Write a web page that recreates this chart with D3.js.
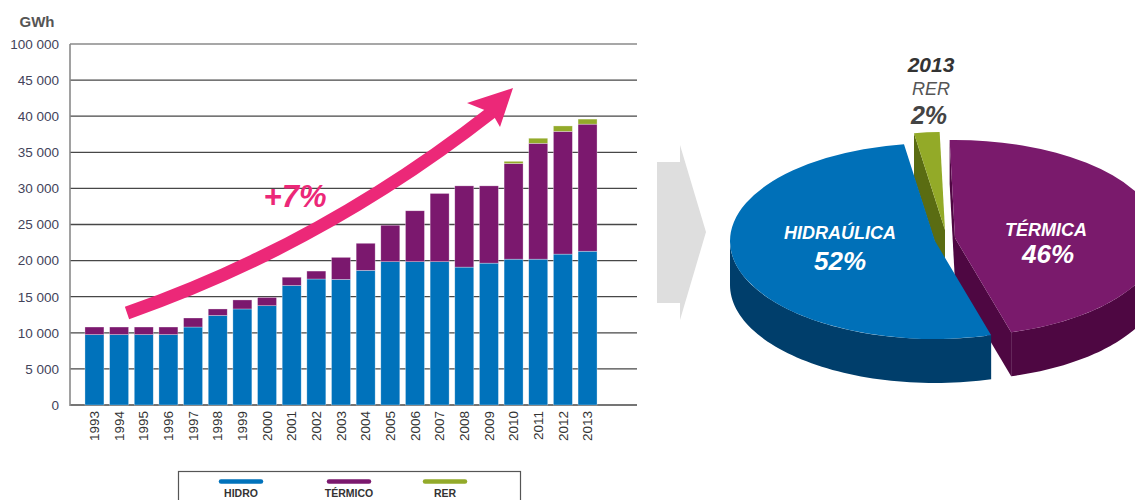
<!DOCTYPE html>
<html><head><meta charset="utf-8">
<script src="https://cdn.jsdelivr.net/npm/d3@7"></script>
<style>
body{margin:0;background:#fff;}
svg{display:block;font-family:"Liberation Sans",Arial,sans-serif;}
</style></head>
<body><svg id="c" width="1135" height="500"></svg>
<script>
// ---------- DATA ----------
const years = ["1993","1994","1995","1996","1997","1998","1999","2000","2001","2002","2003","2004","2005","2006","2007","2008","2009","2010","2011","2012","2013"];
const hidro   = [9750,9750,9750,9750,10800,12400,13300,13750,16550,17450,17400,18650,19850,19850,19850,19100,19650,20200,20200,20900,21300];
const termico = [1050,1050,1050,1050,1250,900,1250,1150,1150,1100,3050,3750,5050,7050,9450,11250,10700,13250,16050,17000,17600];
const rer     = [0,0,0,0,0,0,0,0,0,0,0,0,0,0,0,0,0,300,700,750,700];
const seriesKeys = ["hidro","termico","rer"];
const seriesLabels = ["HIDRO","TÉRMICO","RER"];
const yTickValues = [0,5000,10000,15000,20000,25000,30000,35000,40000,45000,50000];
const yTickLabels = ["0","5 000","10 000","15 000","20 000","25 000","30 000","35 000","40 000","45 000","100 000"];
const pieNames  = ["RER","TÉRMICA","HIDRAÚLICA"];
const pieValues = [2,46,52];
const growthLabel = "+7%";
const pieYear = "2013";

// ---------- STYLE ----------
const colors = {hidro:"#0072bb", termico:"#7b186e", rer:"#93aa2a"};
const svg = d3.select("#c");

// ---------- BAR CHART ----------
const y = d3.scaleLinear().domain([0,50000]).range([405,44]);
const x = d3.scaleBand().domain(years).range([82,600]).paddingInner(0.23).paddingOuter(0.12);
const plotL = 70, plotR = 637;

// grid
svg.append("g").selectAll("line").data(yTickValues).join("line")
  .attr("x1",plotL).attr("x2",plotR)
  .attr("y1",d=>y(d)).attr("y2",d=>y(d))
  .attr("stroke",d=>d===50000?"#8a8a8a":"#474747").attr("stroke-width",1.3);
// y axis line
svg.append("line").attr("x1",plotL).attr("x2",plotL).attr("y1",y(50000)).attr("y2",y(0)+1)
  .attr("stroke","#8a8a8a").attr("stroke-width",1.6);

// y labels
svg.append("g").selectAll("text").data(yTickValues).join("text")
  .attr("x",59).attr("y",d=>y(d)).attr("dy","0.36em")
  .attr("text-anchor","end").attr("font-size",13.5).attr("fill","#43435a")
  .text((d,i)=>yTickLabels[i]);
svg.append("text").attr("x",37).attr("y",27).attr("text-anchor","middle")
  .attr("font-size",15).attr("font-weight","bold").attr("fill","#555").text("GWh");

// stacked bars
const rows = years.map((yr,i)=>({year:yr, hidro:hidro[i], termico:termico[i], rer:rer[i]}));
const stack = d3.stack().keys(seriesKeys)(rows);
svg.append("g").selectAll("g").data(stack).join("g")
  .attr("fill",d=>colors[d.key])
  .selectAll("rect").data(d=>d.filter(p=>p[1]>p[0])).join("rect")
  .attr("x",d=>x(d.data.year)).attr("width",x.bandwidth())
  .attr("y",d=>y(d[1])).attr("height",d=>y(d[0])-y(d[1]))
  .attr("stroke","rgba(255,255,255,0.5)").attr("stroke-width",0.6);

// x labels
svg.append("g").selectAll("text").data(years).join("text")
  .attr("transform",d=>`translate(${x(d)+x.bandwidth()/2},${411}) rotate(-90)`)
  .attr("text-anchor","end").attr("dy","0.35em")
  .attr("font-size",13.5).attr("fill","#333").text(d=>d);

// growth arrow
svg.append("path").attr("d","M127,313 Q322,245 492,112")
  .attr("fill","none").attr("stroke","#ec2878").attr("stroke-width",13);
svg.append("path").attr("d","M513,88 L500,127 L492,113 L467,103 Z").attr("fill","#ec2878");
svg.append("text").attr("x",295).attr("y",207).attr("text-anchor","middle")
  .attr("font-size",31).attr("font-weight","bold").attr("font-style","italic")
  .attr("fill","#ec2878").text(growthLabel);

// legend
svg.append("rect").attr("x",178.5).attr("y",471.5).attr("width",342).attr("height",40)
  .attr("fill","none").attr("stroke","#555").attr("stroke-width",1.2);
const legX = [241,349,445];
const lg = svg.append("g").selectAll("g").data(seriesKeys).join("g")
  .attr("transform",(d,i)=>`translate(${legX[i]},0)`);
lg.append("line").attr("x1",-20).attr("x2",20).attr("y1",481.5).attr("y2",481.5)
  .attr("stroke",d=>colors[d]).attr("stroke-width",4.5).attr("stroke-linecap","round");
lg.append("text").attr("y",497).attr("text-anchor","middle").attr("font-size",10.5)
  .attr("font-weight","bold").attr("fill","#333").text((d,i)=>seriesLabels[i]);

// chevron
svg.append("path").attr("d","M657,162 L680,162 L680,145 L706,232 L680,320 L680,303 L657,303 Z")
  .attr("fill","#dedede");

// ---------- 3D PIE ----------
const rad = Math.PI/180;
const rx = 205, ry = 98, depth = 44;
const pieTop = ["#93aa28","#7a1a6c","#0070b8"];
const pieSide = ["#5a6c12","#4e0742","#003e6b"];
const centers = [[945,230],[955,238],[935,241]];
const arcs = d3.pie().sort(null).startAngle(-8.7*rad).endAngle(351.3*rad)(pieValues);
const P = (c,a,dy=0)=>[c[0]+rx*Math.sin(a), c[1]-ry*Math.cos(a)+dy];
const arcGen = d3.arc().innerRadius(0).outerRadius(rx);
const pg = svg.append("g");
arcs.forEach((a,i)=>{
  const c = centers[i];
  const g = pg.append("g");
  const faces = [];
  if (Math.sin(a.startAngle) < 0) faces.push(a.startAngle);
  if (Math.sin(a.endAngle) > 0) faces.push(a.endAngle);
  faces.forEach(t=>{
    const p1 = P(c,t), p2 = P(c,t,depth);
    g.append("path").attr("d",`M${c[0]},${c[1]} L${p1} L${p2} L${c[0]},${c[1]+depth} Z`)
      .attr("fill",pieSide[i]);
  });
  const a0 = Math.max(a.startAngle, Math.PI/2), a1 = Math.min(a.endAngle, 3*Math.PI/2);
  if (a1 > a0) {
    const n = 60, top=[], bot=[];
    for (let k=0;k<=n;k++){ const t=a0+(a1-a0)*k/n; top.push(P(c,t)); bot.push(P(c,t,depth)); }
    g.append("path").attr("d","M"+top.join("L")+"L"+bot.reverse().join("L")+"Z")
      .attr("fill",pieSide[i]);
  }
  g.append("path").attr("transform",`translate(${c[0]},${c[1]}) scale(1,${ry/rx})`)
    .attr("d",arcGen(a)).attr("fill",pieTop[i]);
});

// pie labels
const lbl = svg.append("g").attr("font-style","italic").attr("font-weight","bold").attr("text-anchor","middle");
lbl.append("text").attr("x",931).attr("y",72).attr("font-size",21).attr("fill","#333").text(pieYear);
lbl.append("text").attr("x",931).attr("y",95).attr("font-size",18).attr("font-weight","normal").attr("fill","#555").text(pieNames[0]);
lbl.append("text").attr("x",929).attr("y",124).attr("font-size",25).attr("fill","#444").text(pieValues[0]+"%");
lbl.append("text").attr("x",840).attr("y",239).attr("font-size",18).attr("fill","#fff").text(pieNames[2]);
lbl.append("text").attr("x",840).attr("y",270).attr("font-size",26).attr("fill","#fff").text(pieValues[2]+"%");
lbl.append("text").attr("x",1046).attr("y",236).attr("font-size",18).attr("fill","#fff").text(pieNames[1]);
lbl.append("text").attr("x",1048).attr("y",263).attr("font-size",26).attr("fill","#fff").text(pieValues[1]+"%");
</script></body></html>
